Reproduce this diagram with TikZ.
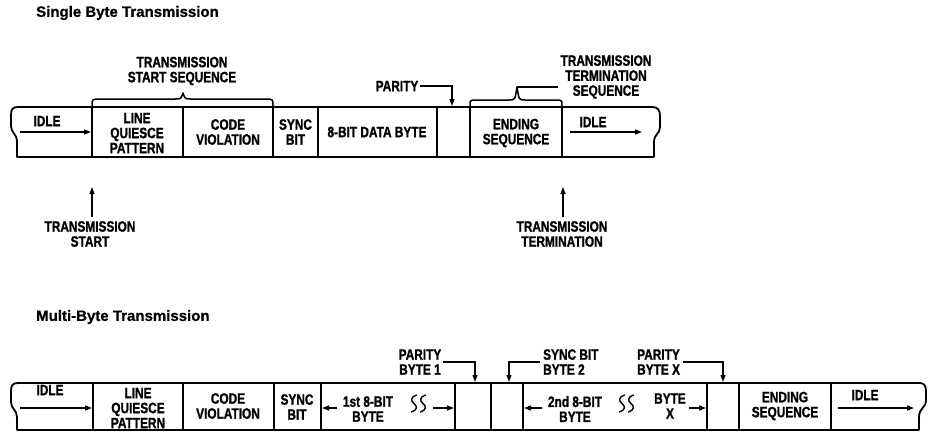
\documentclass[tikz,border=0pt]{standalone}
\usepackage{fontspec}
\newfontfamily\lblfont[FakeStretch=0.79,FakeBold=1.2]{Liberation Sans Bold}
\newfontfamily\ttlfont[FakeBold=0.8]{Liberation Sans Bold}
\usetikzlibrary{arrows.meta}
\tikzset{
  lbl/.style={font=\lblfont\fontsize{15}{15}\selectfont, align=center, inner sep=0pt},
  ttl/.style={font=\ttlfont\fontsize{15}{17}\selectfont, inner sep=0pt, anchor=west},
  strip/.style={line width=1.8pt, line join=round},
  divider/.style={line width=1.8pt},
  arr/.style={line width=1.2pt, -{Triangle[length=7pt,width=5pt]}},
  callout/.style={line width=1.1pt, -{Triangle[length=7pt,width=5pt]}},
  bracepath/.style={line width=1.5pt, line cap=round, line join=round},
  squig/.style={line width=1.4pt, line cap=round}
}
\begin{document}
\begin{tikzpicture}[x=1pt,y=-1pt]
\useasboundingbox (0,0) rectangle (928,434);

% titles
\node[ttl] (t1) at (36,13) {Single Byte Transmission};
\node[ttl] (t2) at (36,317) {Multi-Byte Transmission};

% ---------------- top strip ----------------
\draw[strip] (17,157) -- (17,141) .. controls (17,134) and (11,133) .. (11,126) -- (11,115)
  .. controls (11,109) and (13,107) .. (18,107) -- (652,107)
  .. controls (658,107) and (660,110) .. (660,116) -- (660,127)
  .. controls (660,134) and (654,134) .. (654,142) -- (654,157) -- cycle;
\foreach \x in {92,183,273,318,437,470,562}
  \draw[divider] (\x,107) -- (\x,157);

\node[lbl] (idle1) at (47,121) {IDLE};
\coordinate (i1a) at (20,132); \coordinate (i1b) at (91,132);
\draw[arr] (i1a) -- (i1b);
\node[lbl] (lqp1) at (137,133) {LINE\\QUIESCE\\PATTERN};
\node[lbl] (cv1) at (228,132) {CODE\\VIOLATION};
\node[lbl] (sb1) at (295.5,132) {SYNC\\BIT};
\node[lbl] (db1) at (377,132) {8-BIT DATA BYTE};
\node[lbl] (es1) at (516,133) {ENDING\\SEQUENCE};
\node[lbl] (idle2) at (593,122) {IDLE};
\coordinate (i2a) at (570,132); \coordinate (i2b) at (642,132);
\draw[arr] (i2a) -- (i2b);

% braces and labels above top strip
\node[lbl] (tss) at (182,71) {TRANSMISSION\\START SEQUENCE};
\draw[bracepath] (92,106) .. controls (92,99) .. (100,99) -- (175,99)
  .. controls (181,99) .. (183,93) .. controls (185,99) .. (191,99) -- (265,99)
  .. controls (273,99) .. (273,106);

\node[lbl] (tts) at (606,77) {TRANSMISSION\\TERMINATION\\SEQUENCE};
\coordinate (ttip) at (517,87);
\draw[bracepath] (470,106) .. controls (470,100) .. (477,100) -- (509,100)
  .. controls (515,100) .. (ttip) .. controls (519,100) .. (525,100) -- (555,100)
  .. controls (562,100) .. (562,106);
\draw[line width=1.1pt] (ttip) -- ([xshift=-2pt]ttip -| tts.west);

\node[lbl] (par1) at (397,86) {PARITY};
\coordinate (par1t) at (452,106);
\draw[callout] ([xshift=2pt]par1.east) -| (par1t);

% arrows below top strip
\coordinate (tsa) at (92,187);
\node[lbl] (tstart) at (90,234) {TRANSMISSION\\START};
\draw[arr] ([yshift=4pt]tsa |- tstart.north) -- (tsa);
\coordinate (tta) at (563,187);
\node[lbl] (tterm) at (562,234) {TRANSMISSION\\TERMINATION};
\draw[arr] ([yshift=4pt]tta |- tterm.north) -- (tta);

% ---------------- bottom strip ----------------
\draw[strip] (17,430) -- (17,417) .. controls (17,410) and (11,409) .. (11,402) -- (11,391)
  .. controls (11,385) and (13,383) .. (18,383) -- (920,383)
  .. controls (924,383) and (926,386) .. (926,391) -- (926,400)
  .. controls (926,408) and (919,408) .. (919,417) -- (919,430) -- cycle;
\foreach \x in {93,183,274,321,455,491,523,707,739,831}
  \draw[divider] (\x,383) -- (\x,430);

\node[lbl] (idle3) at (50,390) {IDLE};
\coordinate (i3a) at (20,408); \coordinate (i3b) at (92,408);
\draw[arr] (i3a) -- (i3b);
\node[lbl] (lqp2) at (138,408) {LINE\\QUIESCE\\PATTERN};
\node[lbl] (cv2) at (228,406) {CODE\\VIOLATION};
\node[lbl] (sb2) at (297,407) {SYNC\\BIT};

\node[lbl] (b1) at (368,409) {1st 8-BIT\\BYTE};
\coordinate (b1la) at (337,408); \coordinate (b1lb) at (322,408);
\draw[arr] (b1la) -- (b1lb);
\coordinate (b1ra) at (433,408); \coordinate (b1rb) at (454,408);
\draw[arr] (b1ra) -- (b1rb);
\foreach \x in {414,423}
  \draw[squig] (\x+2.5,395) .. controls (\x-3.5,397) and (\x-3.5,401) .. (\x,403.5)
     .. controls (\x+3.5,406) and (\x+3.5,410) .. (\x-2.5,412);

\node[lbl] (b2) at (575,409) {2nd 8-BIT\\BYTE};
\coordinate (b2la) at (542,408); \coordinate (b2lb) at (524,408);
\draw[arr] (b2la) -- (b2lb);
\foreach \x in {622,631}
  \draw[squig] (\x+2.5,395) .. controls (\x-3.5,397) and (\x-3.5,401) .. (\x,403.5)
     .. controls (\x+3.5,406) and (\x+3.5,410) .. (\x-2.5,412);
\node[lbl] (bx) at (670,406) {BYTE\\X};
\coordinate (bxa) at (689,408); \coordinate (bxb) at (706,408);
\draw[arr] (bxa) -- (bxb);

\node[lbl] (es2) at (785,406) {ENDING\\SEQUENCE};
\node[lbl] (idle4) at (865,395) {IDLE};
\coordinate (i4a) at (838,408); \coordinate (i4b) at (914,408);
\draw[arr] (i4a) -- (i4b);

% callouts above bottom strip
\node[lbl] (pb1) at (420,362) {PARITY\\BYTE 1};
\coordinate (pb1t) at (475,382);
\draw[callout] ([xshift=2pt]pb1.east) -| (pb1t);

\node[lbl, align=left, anchor=west] (sbb2) at (543,362) {SYNC BIT\\BYTE 2};
\coordinate (sbb2t) at (509,382);
\draw[callout] ([xshift=-3pt]sbb2.west) -| (sbb2t);

\node[lbl, align=left, anchor=west] (pbx) at (637,362) {PARITY\\BYTE X};
\coordinate (pbxt) at (723,382);
\draw[callout] ([xshift=3pt]pbx.east) -| (pbxt);
\end{tikzpicture}
\end{document}
